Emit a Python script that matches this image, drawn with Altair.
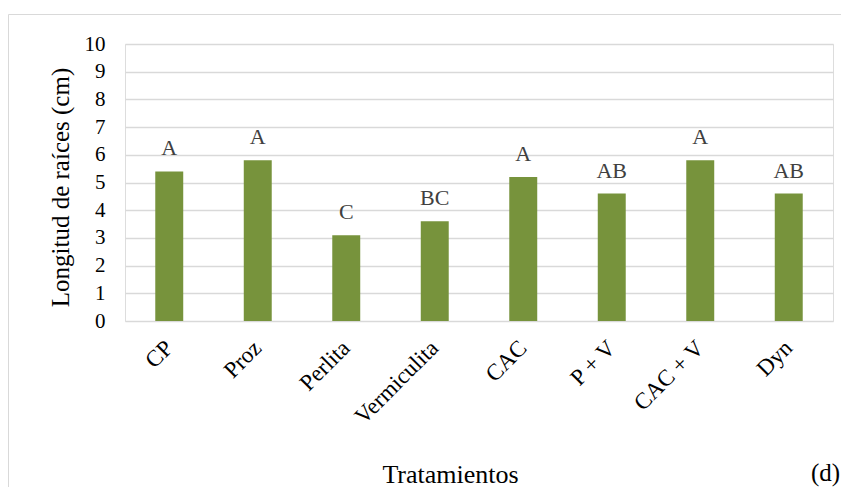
import altair as alt
import pandas as pd

categories = ["CP", "Proz", "Perlita", "Vermiculita", "CAC", "P + V", "CAC + V", "Dyn"]
values = [5.4, 5.8, 3.1, 3.6, 5.2, 4.6, 5.8, 4.6]
letters = ["A", "A", "C", "BC", "A", "AB", "A", "AB"]
y_ticks = list(range(0, 11))

df = pd.DataFrame({"cat": categories, "val": values, "lab": letters})

FONT = "Liberation Serif"
W, H = 708, 277

x_enc = alt.X(
    "cat:N",
    sort=categories,
    scale=alt.Scale(paddingInner=0.684, paddingOuter=0.342),
    axis=alt.Axis(
        title="Tratamientos",
        labelAngle=-45,
        labelAlign="right",
        labelBaseline="middle",
        labelPadding=23,
        ticks=False,
        domain=False,
        labelFont=FONT,
        labelFontSize=23,
        labelColor="#000000",
        titleFont=FONT,
        titleFontSize=26,
        titleFontWeight="normal",
        titleColor="#000000",
        titleX=325,
        titleY=161,
        titleAlign="center",
        titleBaseline="alphabetic",
    ),
)

y_enc = alt.Y(
    "val:Q",
    scale=alt.Scale(domain=[0, 10], nice=False),
    axis=alt.Axis(
        title="Longitud de raíces (cm)",
        values=y_ticks,
        labelOverlap=False,
        grid=True,
        gridColor="#d9d9d9",
        gridWidth=1.5,
        domain=False,
        ticks=False,
        labelPadding=20,
        labelFont=FONT,
        labelFontSize=21,
        labelColor="#000000",
        titleFont=FONT,
        titleFontSize=25,
        titleFontWeight="normal",
        titleColor="#000000",
        titleX=-65,
        titleY=143,
        titleAlign="center",
        titleBaseline="middle",
    ),
)

base = alt.Chart(df)

bars = base.mark_bar(color="#77933C").encode(x=x_enc, y=y_enc)

labels = base.mark_text(
    font=FONT, fontSize=22, color="#404040", baseline="middle", dy=-23
).encode(x=x_enc, y=y_enc, text="lab:N")

frame = alt.Chart(pd.DataFrame({"a": [0]})).mark_rect(
    filled=False, stroke="#d9d9d9", strokeWidth=1
).encode(
    x=alt.value(-116.5), x2=alt.value(740), y=alt.value(-29.5), y2=alt.value(600)
)

tag = alt.Chart(pd.DataFrame({"a": [0]})).mark_text(
    text="(d)", font=FONT, fontSize=25, color="#000000", align="left", baseline="alphabetic"
).encode(x=alt.value(686), y=alt.value(437))

chart = alt.layer(frame, bars, labels, tag).properties(
    width=W,
    height=H,
    autosize=alt.AutoSizeParams(type="none"),
    padding={"left": 117, "top": 36, "right": 8, "bottom": 166},
).configure_view(stroke=None).configure(background="white")

chart.save("out.html", embed_options={"renderer": "svg", "actions": False})
